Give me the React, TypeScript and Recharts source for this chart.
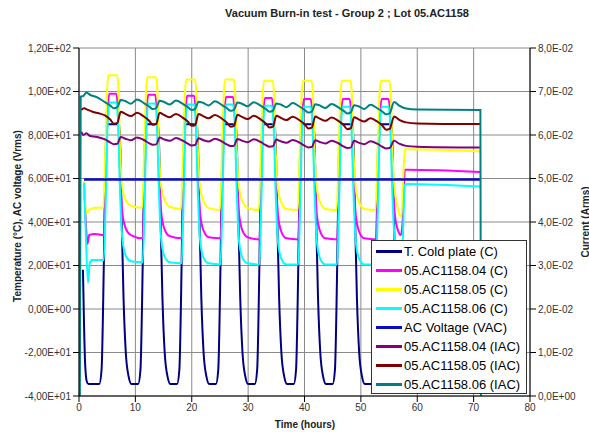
import React from "react";
import { LineChart, Line, XAxis, YAxis, CartesianGrid, Legend } from "recharts";

type Pt = [number, number];

const FONT = "Arial, 'Liberation Sans', sans-serif";

const xTicks = [0, 10, 20, 30, 40, 50, 60, 70, 80];
const tempTicks = [-40, -20, 0, 20, 40, 60, 80, 100, 120];
const tempTickLabels = ["-4,00E+01", "-2,00E+01", "0,00E+00", "2,00E+01", "4,00E+01", "6,00E+01", "8,00E+01", "1,00E+02", "1,20E+02"];
const currentTicks = [0, 0.01, 0.02, 0.03, 0.04, 0.05, 0.06, 0.07, 0.08];
const currentTickLabels = ["0,0E+00", "1,0E-02", "2,0E-02", "3,0E-02", "4,0E-02", "5,0E-02", "6,0E-02", "7,0E-02", "8,0E-02"];

const seriesNames = [
  "T. Cold plate (C)",
  "05.AC1158.04 (C)",
  "05.AC1158.05 (C)",
  "05.AC1158.06 (C)",
  "AC Voltage (VAC)",
  "05.AC1158.04 (IAC)",
  "05.AC1158.05 (IAC)",
  "05.AC1158.06 (IAC)",
];
const seriesColors = ["#000080", "#ff00ff", "#ffff00", "#00ffff", "#0c0cc4", "#800080", "#800000", "#008080"];

// time (hours), temperature (C)
const coldPlate: Pt[] = [
  [0.7, 18], [0.9, -8], [1.1, -26], [1.4, -33.5], [1.7, -34.5], [3.6, -34.5],
  [4.0, -28], [4.4, 20], [4.7, 70], [5.0, 85],
  [7.2, 85], [7.5, 50], [7.9, 5], [8.3, -20], [8.8, -31], [9.3, -34.5], [10.5, -34.5],
  [10.9, -28], [11.3, 20], [11.6, 70], [11.9, 85],
  [14.1, 85], [14.4, 50], [14.8, 5], [15.2, -20], [15.7, -31], [16.2, -34.5], [17.4, -34.5],
  [17.8, -28], [18.2, 20], [18.5, 70], [18.8, 85],
  [21.0, 85], [21.3, 50], [21.7, 5], [22.1, -20], [22.6, -31], [23.1, -34.5], [24.3, -34.5],
  [24.7, -28], [25.1, 20], [25.4, 70], [25.7, 85],
  [27.9, 85], [28.2, 50], [28.6, 5], [29.0, -20], [29.5, -31], [30.0, -34.5], [31.2, -34.5],
  [31.6, -28], [32.0, 20], [32.3, 70], [32.6, 85],
  [34.8, 85], [35.1, 50], [35.5, 5], [35.9, -20], [36.4, -31], [36.9, -34.5], [38.1, -34.5],
  [38.5, -28], [38.9, 20], [39.2, 70], [39.5, 85],
  [41.7, 85], [42.0, 50], [42.4, 5], [42.8, -20], [43.3, -31], [43.8, -34.5], [45.0, -34.5],
  [45.4, -28], [45.8, 20], [46.1, 70], [46.4, 85],
  [48.6, 85], [48.9, 50], [49.3, 5], [49.7, -20], [50.2, -31], [50.7, -34.5], [51.9, -34.5],
  [52.3, -28], [52.7, 20], [53.0, 70], [53.3, 85],
  [55.5, 85], [55.8, 50], [56.2, 5], [56.6, -20], [57.1, -31], [57.6, -34.5], [71.2, -34.5],
];

const dut04Temp: Pt[] = [
  [0.9, 58], [1.2, 40], [1.5, 30], [1.8, 34], [2.8, 34.5], [4.4, 34],
  [4.75, 60], [5.1, 92], [5.4, 99], [6.6, 99], [6.9, 92], [7.3, 62], [7.7, 44], [8.3, 37], [9.2, 34], [11.3, 32.5],
  [11.65, 60], [12.0, 91.5], [12.3, 98.5], [13.5, 98.5], [13.8, 91.5], [14.2, 62], [14.6, 44], [15.2, 36.5], [16.1, 33.5], [18.2, 32.5],
  [18.55, 60], [18.9, 91], [19.2, 98], [20.4, 98], [20.7, 91], [21.1, 62], [21.5, 43.5], [22.1, 36], [23.0, 33], [25.1, 32.5],
  [25.45, 60], [25.8, 90.5], [26.1, 97.5], [27.3, 97.5], [27.6, 90.5], [28.0, 62], [28.4, 43.5], [29.0, 36], [29.9, 33], [32.0, 32],
  [32.35, 60], [32.7, 90], [33.0, 97], [34.2, 97], [34.5, 90], [34.9, 62], [35.3, 43], [35.9, 35.5], [36.8, 32.5], [38.9, 32],
  [39.25, 60], [39.6, 89.5], [39.9, 96.5], [41.1, 96.5], [41.4, 89.5], [41.8, 62], [42.2, 43], [42.8, 35.5], [43.7, 32.5], [45.8, 32],
  [46.15, 60], [46.5, 89.5], [46.8, 96.5], [48.0, 96.5], [48.3, 89.5], [48.7, 62], [49.1, 43], [49.7, 35.5], [50.6, 32.5], [52.7, 32],
  [53.05, 60], [53.4, 89.5], [53.7, 96.5], [54.9, 96.5], [55.2, 89.5], [55.6, 62], [56.0, 44], [56.6, 36], [57.1, 34], [57.4, 40],
  [57.8, 64], [58.3, 64], [71.2, 63],
];

const dut05Temp: Pt[] = [
  [0.9, 59], [1.1, 48], [1.3, 44], [1.8, 45.5], [2.8, 46.5], [4.3, 46.5],
  [4.65, 72], [5.0, 101.5], [5.25, 107.5], [6.75, 107.5], [7.0, 101.5], [7.3, 72], [7.7, 56], [8.3, 50], [9.2, 47.5], [11.2, 46.5],
  [11.55, 72], [11.9, 100.5], [12.15, 106.5], [13.65, 106.5], [13.9, 100.5], [14.2, 72], [14.6, 56], [15.2, 50], [16.1, 47], [18.1, 46],
  [18.45, 72], [18.8, 99.5], [19.05, 105.5], [20.55, 105.5], [20.8, 99.5], [21.1, 72], [21.5, 56], [22.1, 49.5], [23.0, 46.5], [25.0, 45.5],
  [25.35, 72], [25.7, 99.5], [25.95, 105.5], [27.45, 105.5], [27.7, 99.5], [28.0, 72], [28.4, 56], [29.0, 49.5], [29.9, 46.5], [31.9, 45.5],
  [32.25, 72], [32.6, 99], [32.85, 105], [34.35, 105], [34.6, 99], [34.9, 72], [35.3, 55.5], [35.9, 49], [36.8, 46], [38.8, 45.5],
  [39.15, 72], [39.5, 99], [39.75, 105], [41.25, 105], [41.5, 99], [41.8, 72], [42.2, 55.5], [42.8, 49], [43.7, 46], [45.7, 45.5],
  [46.05, 72], [46.4, 99], [46.65, 105], [48.15, 105], [48.4, 99], [48.7, 72], [49.1, 55.5], [49.7, 49], [50.6, 46], [52.6, 45.5],
  [52.95, 72], [53.3, 99], [53.55, 105], [55.05, 105], [55.3, 99], [55.6, 72], [56.0, 55], [56.5, 47], [56.9, 43], [57.2, 42.5],
  [57.5, 60], [57.8, 73.5], [58.3, 73.5], [71.2, 72.5],
];

const dut06Temp: Pt[] = [
  [0.9, 58], [1.2, 35], [1.6, 12], [1.9, 21], [2.3, 22.5], [4.4, 22.5],
  [4.75, 50], [5.1, 87], [5.4, 95], [6.6, 95], [6.9, 87], [7.3, 52], [7.7, 32], [8.3, 24.5], [9.2, 22], [11.3, 21.5],
  [11.65, 50], [12.0, 86.5], [12.3, 94.5], [13.5, 94.5], [13.8, 86.5], [14.2, 52], [14.6, 31.5], [15.2, 24], [16.1, 21.5], [18.2, 21],
  [18.55, 50], [18.9, 86], [19.2, 94], [20.4, 94], [20.7, 86], [21.1, 52], [21.5, 31], [22.1, 23.5], [23.0, 21], [25.1, 20.5],
  [25.45, 50], [25.8, 86], [26.1, 94], [27.3, 94], [27.6, 86], [28.0, 52], [28.4, 31], [29.0, 23.5], [29.9, 21], [32.0, 20.5],
  [32.35, 50], [32.7, 85.5], [33.0, 93.5], [34.2, 93.5], [34.5, 85.5], [34.9, 52], [35.3, 31], [35.9, 23], [36.8, 20.5], [38.9, 20.5],
  [39.25, 50], [39.6, 85], [39.9, 93], [41.1, 93], [41.4, 85], [41.8, 52], [42.2, 31], [42.8, 23], [43.7, 20.5], [45.8, 20.5],
  [46.15, 50], [46.5, 85], [46.8, 93], [48.0, 93], [48.3, 85], [48.7, 52], [49.1, 31], [49.7, 23], [50.6, 20.5], [52.7, 20.5],
  [53.05, 50], [53.4, 85], [53.7, 93], [54.9, 93], [55.2, 85], [55.6, 52], [56.0, 32], [56.6, 25], [57.1, 23], [57.4, 30],
  [57.8, 57], [58.3, 57.5], [71.2, 56.3],
];

const acVoltage: Pt[] = [[0.9, 59.5], [71.2, 59.5]];

// time (hours), current (A rms)
const dut04Current: Pt[] = [
  [0.4, 0.06075], [0.8, 0.06], [1.3, 0.0604], [2.0, 0.05975], [3.0, 0.0596],
  [4.6, 0.059], [5.5, 0.0583], [6.2, 0.0579], [6.8, 0.058], [7.4, 0.05955], [8.2, 0.05915], [9.2, 0.0588], [10.3, 0.05945],
  [11.5, 0.05885], [12.4, 0.05815], [13.1, 0.05775], [13.7, 0.05785], [14.3, 0.0594], [15.1, 0.059], [16.1, 0.05865], [17.2, 0.0593],
  [18.4, 0.0587], [19.3, 0.058], [20.0, 0.0576], [20.6, 0.0577], [21.2, 0.05925], [22.0, 0.05885], [23.0, 0.0585], [24.1, 0.05915],
  [25.3, 0.05855], [26.2, 0.05785], [26.9, 0.05745], [27.5, 0.05755], [28.1, 0.0591], [28.9, 0.0587], [29.9, 0.05835], [31.0, 0.059],
  [32.2, 0.0584], [33.1, 0.0577], [33.8, 0.0573], [34.4, 0.0574], [35.0, 0.05895], [35.8, 0.05855], [36.8, 0.0582], [37.9, 0.05885],
  [39.1, 0.05825], [40.0, 0.05755], [40.7, 0.05715], [41.3, 0.05725], [41.9, 0.0588], [42.7, 0.0584], [43.7, 0.05805], [44.8, 0.0587],
  [46.0, 0.0581], [46.9, 0.0574], [47.6, 0.057], [48.2, 0.0571], [48.8, 0.05865], [49.6, 0.05825], [50.6, 0.0579], [51.7, 0.05855],
  [52.9, 0.058], [53.8, 0.0573], [54.5, 0.0569], [55.1, 0.057], [55.9, 0.05865], [56.8, 0.058], [58.0, 0.0575], [60.0, 0.0573], [71.2, 0.0571],
];

const dut05Current: Pt[] = [
  [0.4, 0.06575], [0.9, 0.06615], [1.6, 0.06575], [2.5, 0.0653], [3.5, 0.065],
  [4.6, 0.0645], [5.5, 0.0636], [6.2, 0.0626], [6.8, 0.0628], [7.4, 0.06535], [8.2, 0.06485], [9.2, 0.06435], [10.3, 0.0651],
  [11.5, 0.06425], [12.4, 0.06335], [13.1, 0.06235], [13.7, 0.06255], [14.3, 0.0651], [15.1, 0.0646], [16.1, 0.0641], [17.2, 0.06485],
  [18.4, 0.064], [19.3, 0.0631], [20.0, 0.0621], [20.6, 0.0623], [21.2, 0.06485], [22.0, 0.06435], [23.0, 0.06385], [24.1, 0.0646],
  [25.3, 0.0638], [26.2, 0.0629], [26.9, 0.0619], [27.5, 0.0621], [28.1, 0.06465], [28.9, 0.06415], [29.9, 0.06365], [31.0, 0.0644],
  [32.2, 0.0636], [33.1, 0.0627], [33.8, 0.0617], [34.4, 0.0619], [35.0, 0.06445], [35.8, 0.06395], [36.8, 0.06345], [37.9, 0.0642],
  [39.1, 0.0634], [40.0, 0.0625], [40.7, 0.0615], [41.3, 0.0617], [41.9, 0.06425], [42.7, 0.06375], [43.7, 0.06325], [44.8, 0.064],
  [46.0, 0.06325], [46.9, 0.06235], [47.6, 0.06135], [48.2, 0.06155], [48.8, 0.0641], [49.6, 0.0636], [50.6, 0.0631], [51.7, 0.06385],
  [52.9, 0.0631], [53.8, 0.0622], [54.5, 0.0612], [55.1, 0.0614], [55.9, 0.06425], [56.8, 0.0635], [58.0, 0.0629], [60.0, 0.06265], [71.2, 0.0625],
];

const dut06Current: Pt[] = [
  [0.15, 0], [0.3, 0.0688], [0.8, 0.069], [1.3, 0.06975], [2.0, 0.0692], [3.0, 0.0688],
  [4.6, 0.06755], [5.5, 0.0668], [6.2, 0.06615], [6.8, 0.0664], [7.4, 0.06805], [8.2, 0.0678], [9.2, 0.0672], [10.3, 0.06815],
  [11.5, 0.06735], [12.4, 0.0666], [13.1, 0.06595], [13.7, 0.0662], [14.3, 0.06785], [15.1, 0.0676], [16.1, 0.067], [17.2, 0.06795],
  [18.4, 0.06715], [19.3, 0.0664], [20.0, 0.06575], [20.6, 0.066], [21.2, 0.06765], [22.0, 0.0674], [23.0, 0.0668], [24.1, 0.06775],
  [25.3, 0.06695], [26.2, 0.0662], [26.9, 0.06555], [27.5, 0.0658], [28.1, 0.06745], [28.9, 0.0672], [29.9, 0.0666], [31.0, 0.06755],
  [32.2, 0.06675], [33.1, 0.066], [33.8, 0.06535], [34.4, 0.0656], [35.0, 0.06725], [35.8, 0.067], [36.8, 0.0664], [37.9, 0.06735],
  [39.1, 0.06655], [40.0, 0.0658], [40.7, 0.06515], [41.3, 0.0654], [41.9, 0.06705], [42.7, 0.0668], [43.7, 0.0662], [44.8, 0.06715],
  [46.0, 0.06635], [46.9, 0.0656], [47.6, 0.06495], [48.2, 0.0652], [48.8, 0.06685], [49.6, 0.0666], [50.6, 0.066], [51.7, 0.06695],
  [52.9, 0.06615], [53.8, 0.0654], [54.5, 0.06475], [55.1, 0.065], [55.9, 0.0676], [56.8, 0.06675], [58.0, 0.0661], [60.0, 0.06585],
  [71.2, 0.06575], [71.3, 0],
];

const seriesPoints = [coldPlate, dut04Temp, dut05Temp, dut06Temp, acVoltage, dut04Current, dut05Current, dut06Current];
const seriesAxis = ["temp", "temp", "temp", "temp", "temp", "current", "current", "current"];

const renderLegend = () => (
  <div
    style={{
      width: 156,
      height: 154,
      boxSizing: "border-box",
      border: "1px solid #333",
      background: "#fff",
      paddingTop: 1,
      fontFamily: FONT,
    }}
  >
    {seriesNames.map((name, i) => (
      <div key={name} style={{ height: 19, display: "flex", alignItems: "center" }}>
        <span
          style={{
            display: "inline-block",
            width: 26,
            height: 3,
            marginLeft: 4,
            marginRight: 2,
            background: seriesColors[i],
          }}
        />
        <span style={{ fontSize: 13, color: "#000", whiteSpace: "nowrap" }}>{name}</span>
      </div>
    ))}
  </div>
);

export default function App() {
  const tickStyle = { fontSize: 10, fill: "#333", fontFamily: FONT };
  return (
    <div
      style={{
        position: "absolute",
        left: 0,
        top: 0,
        width: 589,
        height: 432,
        background: "#fff",
        fontFamily: FONT,
        overflow: "hidden",
      }}
    >
      <div
        style={{
          position: "absolute",
          left: 197,
          top: 7,
          width: 300,
          textAlign: "center",
          fontSize: 11,
          fontWeight: "bold",
          color: "#222",
          zIndex: 2,
        }}
      >
        Vacuum Burn-in test - Group 2 ; Lot 05.AC1158
      </div>
      <LineChart width={589} height={432} margin={{ top: 48, right: 9, bottom: 0, left: 9 }}>
        <CartesianGrid yAxisId="temp" stroke="#8a8a8a" strokeWidth={1} />
        <XAxis
          dataKey="t"
          type="number"
          domain={[0, 80]}
          ticks={xTicks}
          height={36}
          tick={tickStyle}
          stroke="#000"
          allowDataOverflow
        />
        <YAxis
          yAxisId="temp"
          domain={[-40, 120]}
          ticks={tempTicks}
          width={70}
          tick={tickStyle}
          stroke="#000"
          tickFormatter={(v: number) => tempTickLabels[tempTicks.indexOf(v)] ?? String(v)}
          allowDataOverflow
        />
        <YAxis
          yAxisId="current"
          orientation="right"
          domain={[0, 0.08]}
          ticks={currentTicks}
          width={50}
          tick={tickStyle}
          stroke="#000"
          tickFormatter={(v: number) => currentTickLabels[Math.round(v * 100)] ?? String(v)}
          allowDataOverflow
        />
        <Legend
          layout="horizontal"
          verticalAlign="middle"
          align="center"
          content={renderLegend}
          wrapperStyle={{ left: 371, top: 240, width: 156, height: 154 }}
        />
        {seriesPoints.map((pts, i) => (
          <Line
            key={seriesNames[i]}
            name={seriesNames[i]}
            data={pts.map(([t, v]) => ({ t, v }))}
            dataKey="v"
            yAxisId={seriesAxis[i]}
            type="monotone"
            stroke={seriesColors[i]}
            strokeWidth={i === 4 ? 2.5 : 2}
            dot={false}
            activeDot={false}
            isAnimationActive={false}
          />
        ))}
      </LineChart>
      <div
        style={{
          position: "absolute",
          left: 17,
          top: 216,
          transform: "translate(-50%, -50%) rotate(-90deg)",
          whiteSpace: "nowrap",
          fontSize: 10,
          fontWeight: "bold",
          color: "#222",
        }}
      >
        Temperature (°C), AC voltage (Vrms)
      </div>
      <div
        style={{
          position: "absolute",
          left: 585,
          top: 222,
          transform: "translate(-50%, -50%) rotate(-90deg)",
          whiteSpace: "nowrap",
          fontSize: 10,
          fontWeight: "bold",
          color: "#222",
        }}
      >
        Current (Arms)
      </div>
      <div
        style={{
          position: "absolute",
          left: 255,
          top: 419,
          width: 100,
          textAlign: "center",
          fontSize: 10,
          fontWeight: "bold",
          color: "#222",
        }}
      >
        Time (hours)
      </div>
    </div>
  );
}
